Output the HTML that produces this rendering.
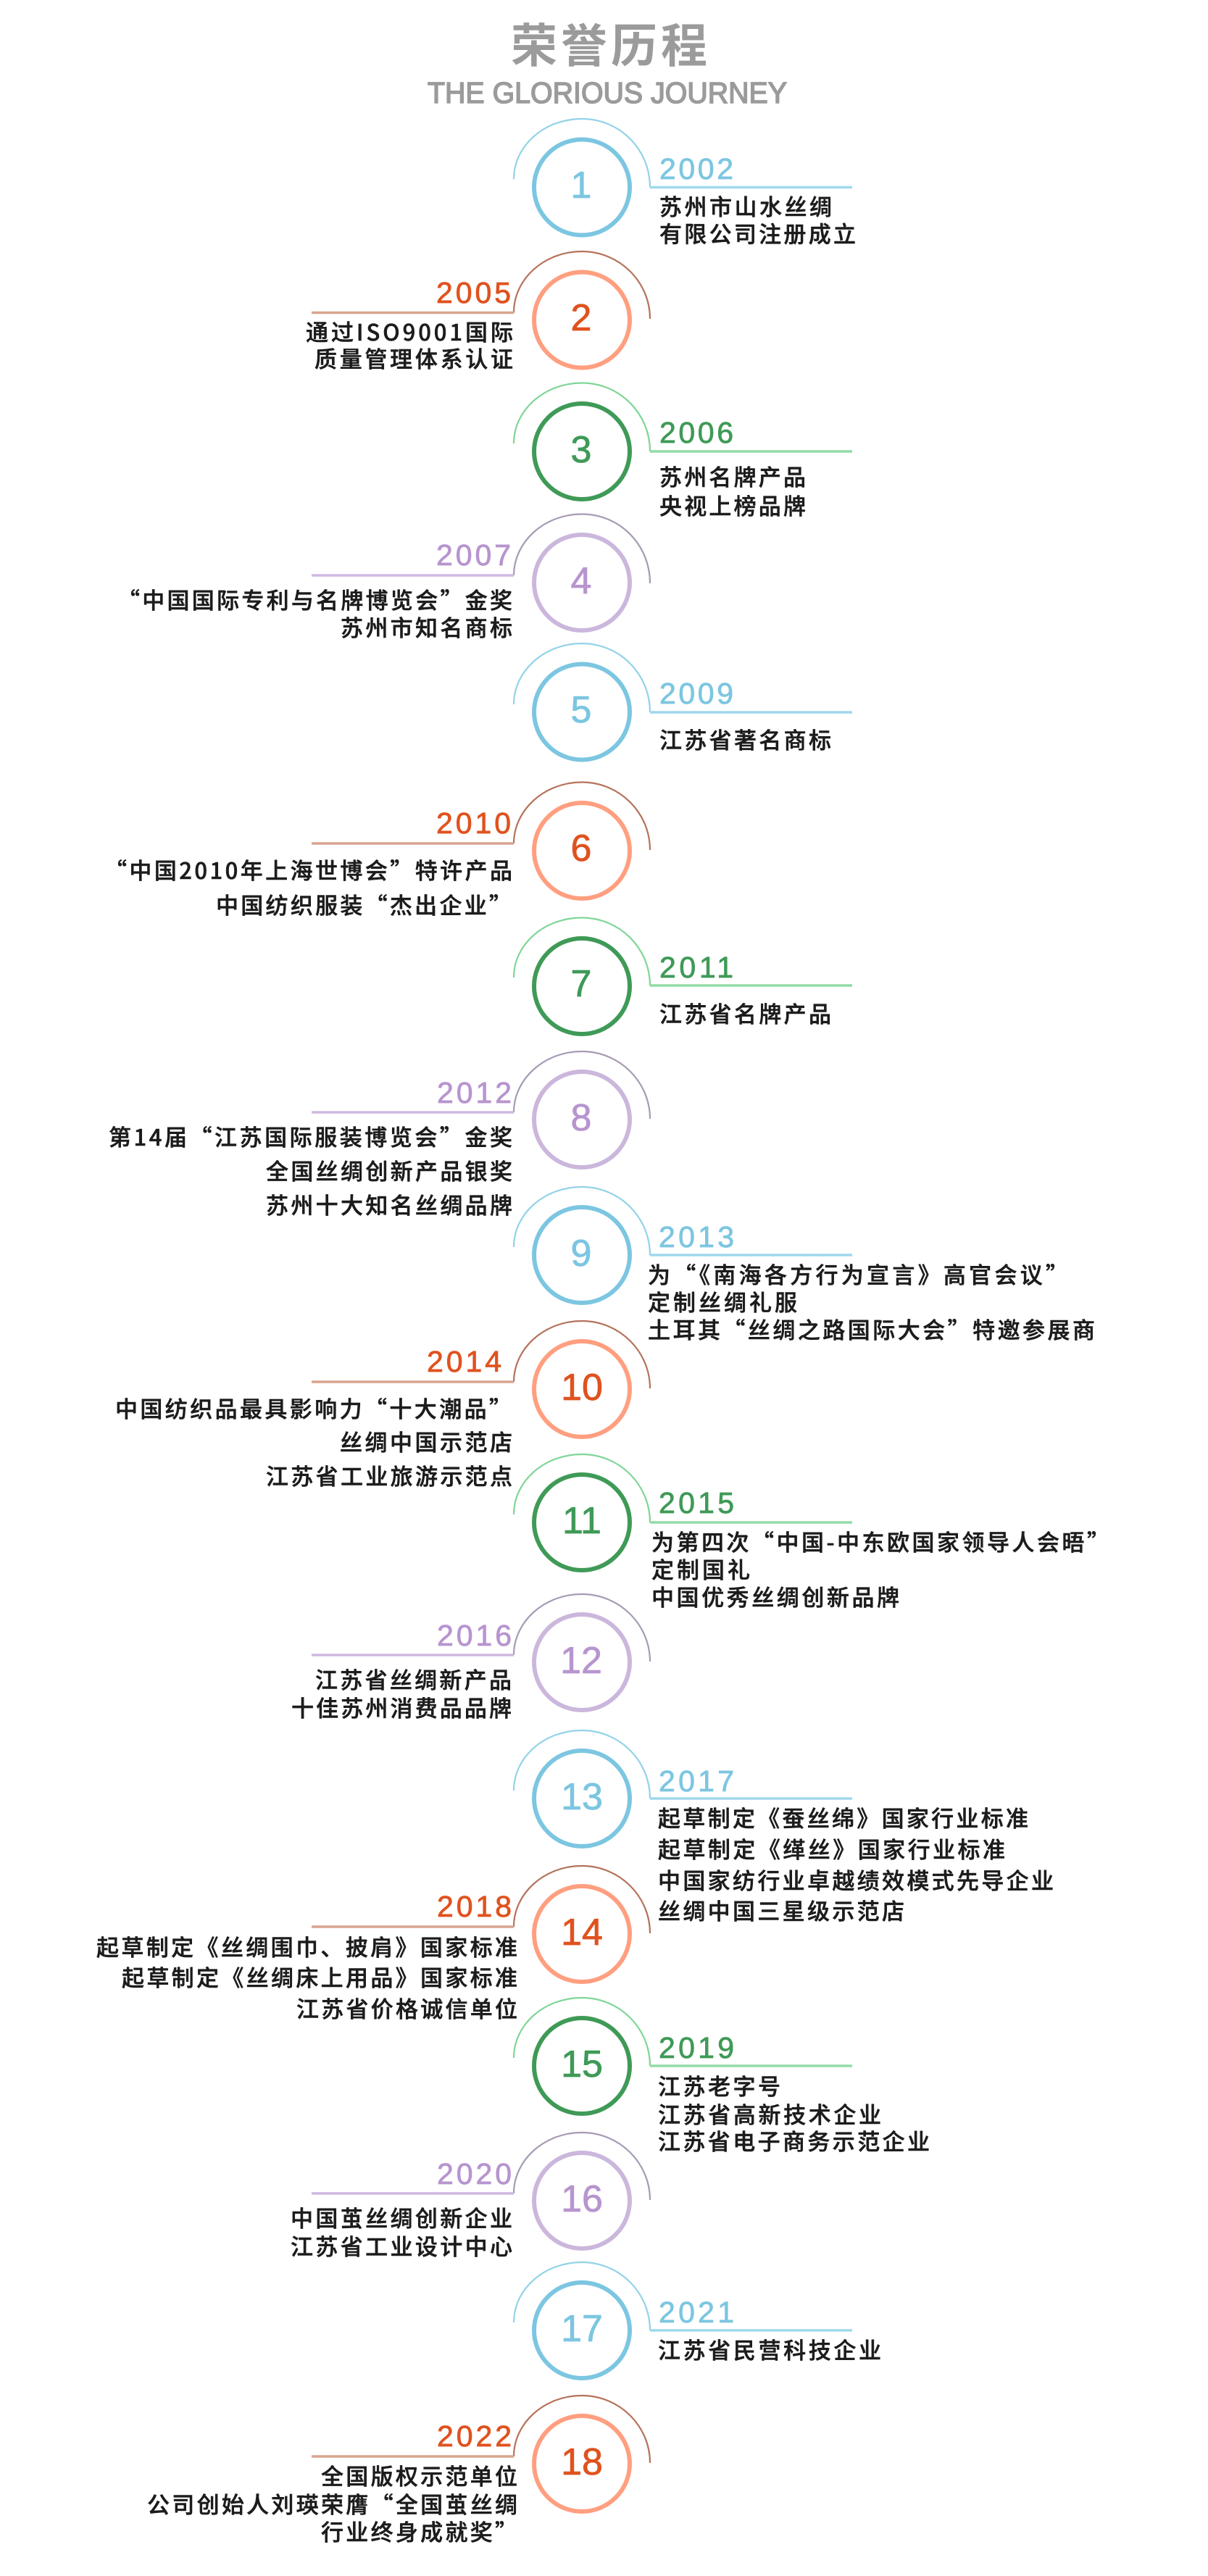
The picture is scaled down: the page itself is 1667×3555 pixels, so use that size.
<!DOCTYPE html>
<html lang="zh-CN">
<head>
<meta charset="utf-8">
<title>荣誉历程</title>
<style>
html,body{margin:0;padding:0;background:#fff;}
svg{display:block;}
text{font-family:"Noto Sans CJK SC","Liberation Sans",sans-serif;}
.t{font-size:31px;fill:#1c1c1c;stroke:#1c1c1c;stroke-width:.55;font-weight:500;}
.y,.n{font-family:"Liberation Sans","Noto Sans CJK SC",sans-serif;stroke-width:.8;}
.y{font-size:41px;}
.n{font-size:52px;text-anchor:middle;}
.c{fill:none;stroke-width:6;}
.a{fill:none;stroke-width:2.2;}
.l{fill:none;stroke-width:3.5;}
.bc{stroke:#7cc6e1;}.ba{stroke:#93d3e8;}.bl{stroke:#9fd8ec;}.bt{fill:#7cc6e1;stroke:#7cc6e1;}
.oc{stroke:#ff9f80;}.oa{stroke:#b5735b;}.ol{stroke:#d9a48f;}.ot{fill:#e0521f;stroke:#e0521f;}
.gc{stroke:#3f9a57;}.ga{stroke:#80d698;}.gl{stroke:#92dca6;}.gt{fill:#3f9a57;stroke:#3f9a57;}
.pc{stroke:#cbb7dc;}.pa{stroke:#a79bb4;}.pl{stroke:#cfb8e0;}.pt{fill:#b795cf;stroke:#b795cf;}
</style>
</head>
<body>
<svg xmlns="http://www.w3.org/2000/svg" width="1667" height="3555" viewBox="0 0 1667 3555">
<rect width="1667" height="3555" fill="#fff"/>
<text x="705" y="86" font-size="64" font-weight="700" fill="#9b9b9b" textLength="271">荣誉历程</text>
<text x="590" y="142" style="font-family:'Liberation Sans',sans-serif" font-size="41" fill="#9b9b9b" stroke="#9b9b9b" stroke-width="1.6" textLength="496" lengthAdjust="spacingAndGlyphs">THE GLORIOUS JOURNEY</text>

<!-- 1 -->
<circle class="c bc" cx="803" cy="258.5" r="66"/>
<path class="a ba" d="M709 247.5C709 201 751 164 803 164C855 164 897 206 897 258.5"/>
<path class="l bl" d="M897 258.5H1176"/>
<text class="n bt" x="802" y="273">1</text>
<text class="y bt" x="910" y="247" textLength="102">2002</text>
<text class="t" x="910" y="297" textLength="238">苏州市山水丝绸</text>
<text class="t" x="910" y="334.5" textLength="271">有限公司注册成立</text>

<!-- 2 -->
<circle class="c oc" cx="803" cy="441.5" r="66"/>
<path class="a oa" d="M709 431.5C709 385 751 347 803 347C855 347 897 389 897 440"/>
<path class="l ol" d="M430 431.5H709"/>
<text class="n ot" x="802" y="456">2</text>
<text class="y ot" x="602" y="418" textLength="103">2005</text>
<text class="t" x="422" y="470" textLength="286">通过ISO9001国际</text>
<text class="t" x="434" y="507" textLength="274">质量管理体系认证</text>

<!-- 3 -->
<circle class="c gc" cx="803" cy="623" r="66"/>
<path class="a ga" d="M709 612C709 566 751 528.500 803 528.500C855 528.500 897 570.500 897 623"/>
<path class="l gl" d="M897 623H1176"/>
<text class="n gt" x="802" y="638">3</text>
<text class="y gt" x="910" y="611" textLength="102">2006</text>
<text class="t" x="910" y="670" textLength="202">苏州名牌产品</text>
<text class="t" x="910" y="710" textLength="202">央视上榜品牌</text>

<!-- 4 -->
<circle class="c pc" cx="803" cy="804" r="66"/>
<path class="a pa" d="M709 794C709 748 751 709.500 803 709.500C855 709.500 897 751.500 897 805"/>
<path class="l pl" d="M430 794H709"/>
<text class="n pt" x="802" y="819">4</text>
<text class="y pt" x="602" y="780" textLength="103">2007</text>
<text class="t" x="162" y="840" textLength="545">“中国国际专利与名牌博览会”金奖</text>
<text class="t" x="470" y="878" textLength="237">苏州市知名商标</text>

<!-- 5 -->
<circle class="c bc" cx="803" cy="982.5" r="66"/>
<path class="a ba" d="M709 972C709 926 751 888 803 888C855 888 897 930 897 983"/>
<path class="l bl" d="M897 983H1176"/>
<text class="n bt" x="802" y="997">5</text>
<text class="y bt" x="910" y="971" textLength="102">2009</text>
<text class="t" x="910" y="1033" textLength="237">江苏省著名商标</text>

<!-- 6 -->
<circle class="c oc" cx="803" cy="1174" r="66"/>
<path class="a oa" d="M709 1164C709 1118 751 1079.500 803 1079.500C855 1079.500 897 1121.500 897 1173"/>
<path class="l ol" d="M430 1164H709"/>
<text class="n ot" x="802" y="1188">6</text>
<text class="y ot" x="602" y="1150" textLength="103">2010</text>
<text class="t" x="144" y="1213" textLength="563">“中国2010年上海世博会”特许产品</text>
<text class="t" x="298" y="1261" textLength="408">中国纺织服装“杰出企业”</text>

<!-- 7 -->
<circle class="c gc" cx="803" cy="1361" r="66"/>
<path class="a ga" d="M709 1349C709 1303 751 1266.500 803 1266.500C855 1266.500 897 1308.500 897 1360"/>
<path class="l gl" d="M897 1360H1176"/>
<text class="n gt" x="802" y="1375">7</text>
<text class="y gt" x="910" y="1349" textLength="102">2011</text>
<text class="t" x="910" y="1411" textLength="237">江苏省名牌产品</text>

<!-- 8 -->
<circle class="c pc" cx="803" cy="1545" r="66"/>
<path class="a pa" d="M709 1535C709 1489 751 1451 803 1451C855 1451 897 1493 897 1544"/>
<path class="l pl" d="M430 1535H709"/>
<text class="n pt" x="802" y="1560">8</text>
<text class="y pt" x="603" y="1522" textLength="103">2012</text>
<text class="t" x="150" y="1581" textLength="557">第14届“江苏国际服装博览会”金奖</text>
<text class="t" x="367" y="1628" textLength="340">全国丝绸创新产品银奖</text>
<text class="t" x="367" y="1675" textLength="340">苏州十大知名丝绸品牌</text>

<!-- 9 -->
<circle class="c bc" cx="803" cy="1732" r="66"/>
<path class="a ba" d="M709 1721C709 1675 751 1638 803 1638C855 1638 897 1680 897 1732"/>
<path class="l bl" d="M897 1732H1176"/>
<text class="n bt" x="802" y="1747">9</text>
<text class="y bt" x="909" y="1721" textLength="104">2013</text>
<text class="t" x="894" y="1771" textLength="580">为“《南海各方行为宣言》高官会议”</text>
<text class="t" x="894" y="1809" textLength="206">定制丝绸礼服</text>
<text class="t" x="894" y="1847" textLength="617">土耳其“丝绸之路国际大会”特邀参展商</text>

<!-- 10 -->
<circle class="c oc" cx="803" cy="1917" r="66"/>
<path class="a oa" d="M709 1907C709 1861 751 1823 803 1823C855 1823 897 1865 897 1916"/>
<path class="l ol" d="M430 1907H709"/>
<text class="n ot" x="803" y="1932">10</text>
<text class="y ot" x="589" y="1893" textLength="103">2014</text>
<text class="t" x="159" y="1956" textLength="547">中国纺织品最具影响力“十大潮品”</text>
<text class="t" x="469" y="2002" textLength="238">丝绸中国示范店</text>
<text class="t" x="367" y="2049" textLength="340">江苏省工业旅游示范点</text>

<!-- 11 -->
<circle class="c gc" cx="803" cy="2101" r="66"/>
<path class="a ga" d="M709 2090C709 2044 751 2007 803 2007C855 2007 897 2049 897 2101"/>
<path class="l gl" d="M897 2101H1176"/>
<text class="n gt" x="803" y="2116">11</text>
<text class="y gt" x="909" y="2088" textLength="104">2015</text>
<text class="t" x="899" y="2140" textLength="632">为第四次“中国-中东欧国家领导人会晤”</text>
<text class="t" x="899" y="2178" textLength="136">定制国礼</text>
<text class="t" x="899" y="2216" textLength="342">中国优秀丝绸创新品牌</text>

<!-- 12 -->
<circle class="c pc" cx="803" cy="2294" r="66"/>
<path class="a pa" d="M709 2284C709 2238 751 2200 803 2200C855 2200 897 2242 897 2293"/>
<path class="l pl" d="M430 2284H709"/>
<text class="n pt" x="802" y="2309">12</text>
<text class="y pt" x="603" y="2271" textLength="103">2016</text>
<text class="t" x="435" y="2330" textLength="271">江苏省丝绸新产品</text>
<text class="t" x="402" y="2369" textLength="304">十佳苏州消费品品牌</text>

<!-- 13 -->
<circle class="c bc" cx="803" cy="2482" r="66"/>
<path class="a ba" d="M709 2471C709 2425 751 2388 803 2388C855 2388 897 2430 897 2482"/>
<path class="l bl" d="M897 2482H1176"/>
<text class="n bt" x="803" y="2497">13</text>
<text class="y bt" x="909" y="2472" textLength="104">2017</text>
<text class="t" x="908" y="2521" textLength="511">起草制定《蚕丝绵》国家行业标准</text>
<text class="t" x="908" y="2564" textLength="479">起草制定《缂丝》国家行业标准</text>
<text class="t" x="908" y="2607" textLength="546">中国家纺行业卓越绩效模式先导企业</text>
<text class="t" x="908" y="2649" textLength="340">丝绸中国三星级示范店</text>

<!-- 14 -->
<circle class="c oc" cx="803" cy="2669" r="66"/>
<path class="a oa" d="M709 2659C709 2613 751 2575 803 2575C855 2575 897 2617 897 2668"/>
<path class="l ol" d="M430 2659H709"/>
<text class="n ot" x="803" y="2684">14</text>
<text class="y ot" x="603" y="2645" textLength="103">2018</text>
<text class="t" x="133" y="2699" textLength="581">起草制定《丝绸围巾、披肩》国家标准</text>
<text class="t" x="168" y="2741" textLength="546">起草制定《丝绸床上用品》国家标准</text>
<text class="t" x="409" y="2784" textLength="305">江苏省价格诚信单位</text>

<!-- 15 -->
<circle class="c gc" cx="803" cy="2851" r="66"/>
<path class="a ga" d="M709 2840C709 2794 751 2757 803 2757C855 2757 897 2799 897 2851"/>
<path class="l gl" d="M897 2851H1176"/>
<text class="n gt" x="803" y="2866">15</text>
<text class="y gt" x="909" y="2840" textLength="104">2019</text>
<text class="t" x="908" y="2891" textLength="169">江苏老字号</text>
<text class="t" x="908" y="2930" textLength="308">江苏省高新技术企业</text>
<text class="t" x="908" y="2967" textLength="375">江苏省电子商务示范企业</text>

<!-- 16 -->
<circle class="c pc" cx="803" cy="3037" r="66"/>
<path class="a pa" d="M709 3027C709 2981 751 2943 803 2943C855 2943 897 2985 897 3036"/>
<path class="l pl" d="M430 3027H709"/>
<text class="n pt" x="803" y="3052">16</text>
<text class="y pt" x="603" y="3014" textLength="103">2020</text>
<text class="t" x="401" y="3073" textLength="306">中国茧丝绸创新企业</text>
<text class="t" x="401" y="3112" textLength="306">江苏省工业设计中心</text>

<!-- 17 -->
<circle class="c bc" cx="803" cy="3216" r="66"/>
<path class="a ba" d="M709 3205C709 3159 751 3122 803 3122C855 3122 897 3164 897 3216"/>
<path class="l bl" d="M897 3216H1176"/>
<text class="n bt" x="803" y="3231">17</text>
<text class="y bt" x="909" y="3205" textLength="104">2021</text>
<text class="t" x="908" y="3255" textLength="308">江苏省民营科技企业</text>

<!-- 18 -->
<circle class="c oc" cx="803" cy="3400" r="66"/>
<path class="a oa" d="M709 3390C709 3344 751 3306 803 3306C855 3306 897 3348 897 3399"/>
<path class="l ol" d="M430 3390H709"/>
<text class="n ot" x="803" y="3415">18</text>
<text class="y ot" x="603" y="3376" textLength="103">2022</text>
<text class="t" x="443" y="3429" textLength="271">全国版权示范单位</text>
<text class="t" x="203" y="3468" textLength="511">公司创始人刘瑛荣膺“全国茧丝绸</text>
<text class="t" x="443" y="3506" textLength="271">行业终身成就奖”</text>
</svg>
</body>
</html>
